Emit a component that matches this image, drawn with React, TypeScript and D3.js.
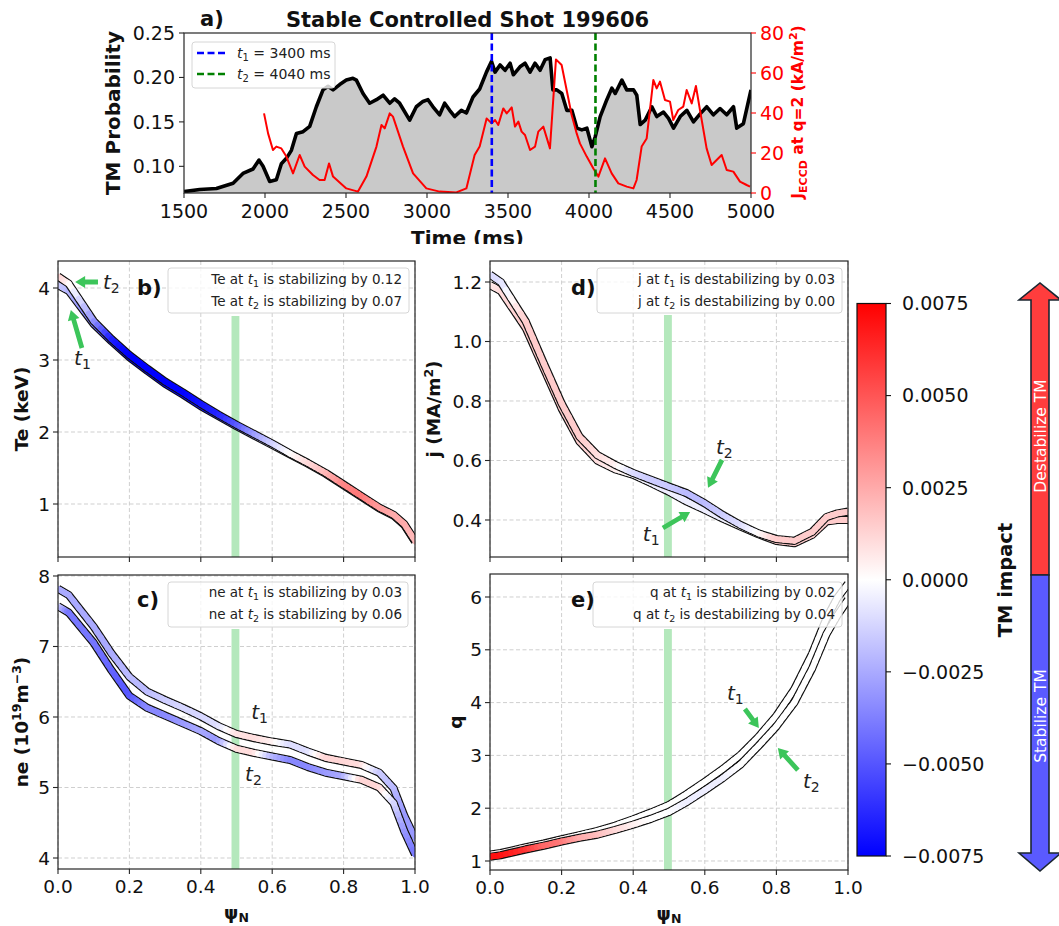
import React from "react";
import * as d3 from "d3";

const FONT = "'DejaVu Sans', sans-serif";

// ---------- panel a data ----------
const TIME_TICKS = [1500, 2000, 2500, 3000, 3500, 4000, 4500, 5000];
const PROB_TICKS = [0.1, 0.15, 0.2, 0.25];
const JECCD_TICKS = [0, 20, 40, 60, 80];
const T1_MS = 3400;
const T2_MS = 4040;

const PROB_T = [1500,1597,1700,1803,1864,1926,1963,1988,2029,2070,2101,2132,2163,2194,2235,2276,2317,2358,2389,2420,2461,2502,2543,2564,2605,2646,2688,2729,2770,2800,2831,2893,2934,2975,3006,3037,3078,3109,3140,3171,3212,3243,3284,3325,3367,3398,3420,3451,3482,3513,3533,3574,3605,3636,3667,3698,3729,3760,3777,3801,3832,3863,3894,3925,3956,3987,4018,4038,4069,4110,4141,4162,4203,4233,4275,4295,4316,4347,4388,4418,4460,4491,4522,4563,4604,4645,4686,4727,4768,4809,4850,4892,4912,4953,5000];
const PROB_V = [.0715,.074,.075,.081,.092,.097,.107,.100,.083,.085,.103,.109,.118,.137,.139,.145,.167,.186,.190,.186,.192,.197,.199,.197,.182,.171,.175,.180,.171,.176,.171,.152,.167,.173,.175,.167,.158,.171,.163,.156,.163,.160,.178,.187,.206,.218,.206,.214,.208,.216,.203,.212,.216,.206,.216,.208,.220,.222,.186,.186,.182,.163,.163,.143,.141,.143,.122,.133,.156,.175,.188,.182,.197,.186,.186,.180,.147,.152,.167,.156,.161,.154,.143,.156,.163,.150,.159,.167,.158,.165,.158,.167,.143,.148,.186];

const JECCD_T = [1994,2019,2049,2070,2101,2132,2173,2214,2245,2296,2337,2368,2395,2420,2502,2574,2626,2688,2719,2739,2770,2790,2852,2914,2996,3078,3181,3243,3294,3325,3368,3399,3420,3440,3471,3492,3523,3543,3564,3584,3605,3636,3667,3687,3718,3759,3796,3831,3862,3893,3924,3944,3986,4027,4058,4099,4140,4181,4233,4274,4294,4325,4356,4397,4418,4438,4469,4500,4520,4551,4582,4603,4634,4660,4685,4726,4757,4788,4819,4850,4891,4932,4973,4994];
const JECCD_V = [39.8,29.8,21.5,23.2,22.3,18.2,9.8,19,13.2,9,6.5,6.5,14.8,8.2,2.3,0.7,8.2,23.2,34,32.3,39.8,38.2,23.2,9.8,2.3,0.7,0.3,2.3,19,23.2,37.3,34.8,36.5,34,42.3,39.8,42.8,33.2,35.7,30.7,29,21.5,23.2,30.7,33.2,22.3,66.8,64,51.5,39,29.8,24.8,18.2,12.3,8.2,17.3,9.8,4.8,3.2,2.3,6.5,23.2,27.3,56.5,52.3,55.7,46.5,45.7,36.5,41.5,43.2,51.5,44.8,53.5,41.5,22.3,14,16.5,19,11.5,10.7,5.7,4,3.2];

// ---------- profile data ----------
const PSI = [0, 0.03, 0.1, 0.15, 0.2, 0.25, 0.3, 0.35, 0.4, 0.45, 0.5, 0.55, 0.6, 0.65, 0.7, 0.75, 0.8, 0.85, 0.9, 0.94, 0.97, 1.0];
const PSI_TICKS = [0, 0.2, 0.4, 0.6, 0.8, 1.0];
const Q2_SPAN = [0.486, 0.508];

const TE_T1 = [4.04, 3.96, 3.50, 3.26, 3.04, 2.85, 2.67, 2.52, 2.36, 2.22, 2.08, 1.95, 1.82, 1.69, 1.56, 1.42, 1.26, 1.10, 0.94, 0.84, 0.71, 0.48];
const TE_T2 = [4.16, 4.06, 3.54, 3.29, 3.07, 2.88, 2.70, 2.55, 2.39, 2.24, 2.10, 1.97, 1.84, 1.70, 1.57, 1.43, 1.27, 1.11, 0.95, 0.85, 0.72, 0.49];
// impact in units of 1e-3
const TE_T1_IMP = [-1.5, -2, -4, -6.5, -7.5, -7.5, -7.5, -7.5, -7, -6.5, -5, -3, -1.5, 0, 1, 2, 3.5, 4, 3, 2.5, 2.5, 2];
const TE_T2_IMP = [1.5, 0.5, -3, -6.5, -7.5, -7.5, -7.5, -7.5, -7, -6.5, -5, -3, -1.5, 0, 1, 2, 3.5, 4, 3, 2.5, 2.5, 2];

const NE_T1 = [7.82, 7.73, 7.28, 6.90, 6.57, 6.36, 6.24, 6.13, 6.01, 5.87, 5.76, 5.70, 5.65, 5.61, 5.51, 5.42, 5.37, 5.32, 5.21, 4.99, 4.60, 4.28];
const NE_T2 = [7.57, 7.48, 7.05, 6.66, 6.30, 6.13, 6.02, 5.91, 5.80, 5.66, 5.55, 5.49, 5.44, 5.39, 5.29, 5.21, 5.16, 5.11, 5.00, 4.78, 4.38, 4.05];
const NE_T1_IMP = [-2.5, -2.5, -2.5, -2.5, -2, -2, -1.5, -1.2, -1.2, -1, 0.8, 1, 0.5, -1, -1, 1.2, 1.2, 1, -1.5, -2, -3, -3];
const NE_T2_IMP = [-1, -4, -4, -4.5, -5, -3.5, -3.5, -3, -2.5, -3, 1, 1, -2, -3.5, -3.5, -3, -2.5, 1.2, 1.2, -1, -3, -4];

const J_T1 = [1.19, 1.17, 1.045, 0.91, 0.775, 0.664, 0.60, 0.57, 0.552, 0.524, 0.495, 0.462, 0.434, 0.405, 0.378, 0.352, 0.330, 0.322, 0.35, 0.395, 0.40, 0.40];
const J_T2 = [1.225, 1.20, 1.067, 0.927, 0.792, 0.68, 0.618, 0.585, 0.558, 0.535, 0.512, 0.49, 0.456, 0.417, 0.383, 0.355, 0.336, 0.330, 0.36, 0.41, 0.422, 0.428];
const J_T1_IMP = [0.5, 1, 1.5, 1.5, 1.5, 1.5, 1, 0.5, 0, -0.5, -0.5, -0.5, -0.5, -0.5, 0, 0.5, 1.5, 1.5, 1.5, 1.5, 1.5, 1.5];
const J_T2_IMP = [-1, -1, 1.5, 1.5, 1.5, 1.5, 1, 0.5, -1, -1.5, -1.5, -2, -2, -1.5, -1, 0, 1.5, 1.5, 1.5, 1.5, 1.5, 1.5];

const Q_T1 = [1.12, 1.15, 1.26, 1.33, 1.41, 1.49, 1.57, 1.67, 1.79, 1.92, 2.06, 2.27, 2.50, 2.74, 3.01, 3.35, 3.75, 4.25, 4.93, 5.60, 5.98, 6.25];
const Q_T2 = [1.08, 1.11, 1.22, 1.29, 1.37, 1.44, 1.50, 1.59, 1.69, 1.80, 1.93, 2.12, 2.34, 2.57, 2.83, 3.18, 3.55, 4.00, 4.65, 5.30, 5.65, 5.95];
const Q_T1_IMP = [0.5, 0.5, 0.5, 0.3, 0.2, 0, 0, 0, 0, 0, 0, 0, 0, 0, 0, 0, 0, 0, 0, 0, 0, 0];
const Q_T2_IMP = [7, 7, 6, 4.5, 4, 2.5, 2, 1.2, 0.5, 0, 0, -0.5, -0.5, -0.5, 0, 0, 0, 0, 0, 0, 0, 0];

const CBAR_TICKS = [-0.0075, -0.005, -0.0025, 0, 0.0025, 0.005, 0.0075];

const cmap = d3.scaleLinear<string>().domain([-7.5, 0, 7.5]).range(["#0000ff", "#ffffff", "#ff0000"]).clamp(true);

function Band({ vals, imps, xs, ys }: { vals: number[]; imps: number[]; xs: any; ys: any }) {
  const pts: [number, number][] = PSI.map((p, i) => [xs(p), ys(vals[i])]);
  const segs: any[] = [];
  const N = 5;
  for (let i = 0; i < pts.length - 1; i++) {
    for (let k = 0; k < N; k++) {
      const a = k / N, b = (k + 1) / N;
      const x0 = pts[i][0] + (pts[i + 1][0] - pts[i][0]) * a;
      const y0 = pts[i][1] + (pts[i + 1][1] - pts[i][1]) * a;
      const x1 = pts[i][0] + (pts[i + 1][0] - pts[i][0]) * b;
      const y1 = pts[i][1] + (pts[i + 1][1] - pts[i][1]) * b;
      const v = imps[i] + (imps[i + 1] - imps[i]) * ((a + b) / 2);
      segs.push(<line key={i + "_" + k} x1={x0} y1={y0} x2={x1} y2={y1} stroke={cmap(v)} strokeWidth={5.8} strokeLinecap="round" />);
    }
  }
  return (
    <g>
      <path d={d3.line()(pts) || ""} fill="none" stroke="#111" strokeWidth={8.2} strokeLinejoin="round" />
      {segs}
    </g>
  );
}

function GreenArrow({ x1, y1, x2, y2 }: { x1: number; y1: number; x2: number; y2: number }) {
  const dx = x2 - x1, dy = y2 - y1;
  const L = Math.hypot(dx, dy);
  const ux = dx / L, uy = dy / L, nx = -uy, ny = ux;
  const sw = 2.4, hw = 6, hl = 10;
  const bx = x2 - ux * hl, by = y2 - uy * hl;
  const p = [
    [x1 + nx * sw, y1 + ny * sw],
    [bx + nx * sw, by + ny * sw],
    [bx + nx * hw, by + ny * hw],
    [x2, y2],
    [bx - nx * hw, by - ny * hw],
    [bx - nx * sw, by - ny * sw],
    [x1 - nx * sw, y1 - ny * sw],
  ];
  return <polygon points={p.map((q) => q.join(",")).join(" ")} fill="#3cc55a" />;
}

function TLabel({ x, y, n }: { x: number; y: number; n: string }) {
  return (
    <text x={x} y={y} fontFamily={FONT} fontSize={20} fill="#222">
      <tspan fontStyle="italic">t</tspan>
      <tspan fontSize={14} dy={4}>{n}</tspan>
    </text>
  );
}

function LegendLine({ x, y, who, n, rest }: { x: number; y: number; who: string; n: string; rest: string }) {
  return (
    <text x={x} y={y} textAnchor="end" fontFamily={FONT} fontSize={13.5} fill="#222">
      <tspan>{who + " at "}</tspan>
      <tspan fontStyle="italic">t</tspan>
      <tspan fontSize={9.5} dy={3}>{n}</tspan>
      <tspan dy={-3}>{" " + rest}</tspan>
    </text>
  );
}

type Ann = { kind: "arrow"; a: [number, number]; b: [number, number] } | { kind: "text"; at: [number, number]; n: string };

function Profile({
  id, box, yDomain, yTicks, yFmt, s1, s2, i1, i2, legendBox, legendText, who, tag, tagX, tagY, ylabel, ylabelX, xLabels, anns, greenTop,
}: any) {
  const xs = d3.scaleLinear().domain([0, 1]).range([box.l, box.r]);
  const ys = d3.scaleLinear().domain(yDomain).range([box.b, box.t]);
  const cy = (box.t + box.b) / 2;
  const cx = (box.l + box.r) / 2;
  return (
    <g>
      <defs>
        <clipPath id={id}>
          <rect x={box.l} y={box.t} width={box.r - box.l} height={box.b - box.t} />
        </clipPath>
      </defs>
      <rect x={box.l} y={box.t} width={box.r - box.l} height={box.b - box.t} fill="#fff" />
      {PSI_TICKS.map((t) => (
        <line key={"gx" + t} x1={xs(t)} x2={xs(t)} y1={box.t} y2={box.b} stroke="#cfcfcf" strokeWidth={1} strokeDasharray="4,2.5" />
      ))}
      {yTicks.map((t: number) => (
        <line key={"gy" + t} x1={box.l} x2={box.r} y1={ys(t)} y2={ys(t)} stroke="#cfcfcf" strokeWidth={1} strokeDasharray="4,2.5" />
      ))}
      <rect x={xs(Q2_SPAN[0])} width={xs(Q2_SPAN[1]) - xs(Q2_SPAN[0])} y={greenTop} height={box.b - greenTop} fill="#b4e8bc" />
      <g clipPath={`url(#${id})`}>
        <Band vals={s1} imps={i1} xs={xs} ys={ys} />
        <Band vals={s2} imps={i2} xs={xs} ys={ys} />
      </g>
      <rect x={legendBox[0]} y={legendBox[1]} width={legendBox[2] - legendBox[0]} height={legendBox[3] - legendBox[1]} rx={3} fill="#fff" fillOpacity={0.8} stroke="#d6d6d6" />
      <LegendLine x={legendText[0]} y={legendText[1]} who={who} n="1" rest={legendText[3]} />
      <LegendLine x={legendText[0]} y={legendText[2]} who={who} n="2" rest={legendText[4]} />
      <text x={tagX} y={tagY} fontFamily={FONT} fontSize={21} fontWeight="bold" fill="#111">{tag}</text>
      {anns.map((a: Ann, i: number) =>
        a.kind === "arrow" ? (
          <GreenArrow key={i} x1={xs(a.a[0])} y1={ys(a.a[1])} x2={xs(a.b[0])} y2={ys(a.b[1])} />
        ) : (
          <TLabel key={i} x={xs(a.at[0])} y={ys(a.at[1])} n={a.n} />
        )
      )}
      <rect x={box.l} y={box.t} width={box.r - box.l} height={box.b - box.t} fill="none" stroke="#262626" strokeWidth={1.2} />
      {yTicks.map((t: number) => (
        <g key={"ty" + t}>
          <line x1={box.l - 5} x2={box.l} y1={ys(t)} y2={ys(t)} stroke="#262626" strokeWidth={1.1} />
          <text x={box.l - 8} y={ys(t)} dy="0.36em" textAnchor="end" fontFamily={FONT} fontSize={18.5} fill="#111">{yFmt(t)}</text>
        </g>
      ))}
      {PSI_TICKS.map((t) => (
        <g key={"tx" + t}>
          <line x1={xs(t)} x2={xs(t)} y1={box.b} y2={box.b + 5} stroke="#262626" strokeWidth={1.1} />
          {xLabels && (
            <text x={xs(t)} y={box.b + 24} textAnchor="middle" fontFamily={FONT} fontSize={18.5} fill="#111">{d3.format(".1f")(t)}</text>
          )}
        </g>
      ))}
      {xLabels && (
        <text x={cx} y={box.b + 50} textAnchor="middle" fontFamily={FONT} fontSize={18} fontWeight="bold" fill="#111">
          ψ<tspan fontSize={12.5} dy={3}>N</tspan>
        </text>
      )}
      <g transform={`translate(${ylabelX},${cy}) rotate(-90)`}>{ylabel}</g>
    </g>
  );
}

function PanelA() {
  const box = { l: 184, r: 751, t: 33, b: 193 };
  const x = d3.scaleLinear().domain([1500, 5000]).range([box.l, box.r]);
  const y = d3.scaleLinear().domain([0.07, 0.25]).range([box.b, box.t]);
  const yr = d3.scaleLinear().domain([0, 80]).range([box.b, box.t]);
  const probPts: [number, number][] = PROB_T.map((t, i) => [x(t), y(PROB_V[i])]);
  const area = d3.area<[number, number]>().x((d) => d[0]).y0(box.b).y1((d) => d[1])(probPts) || "";
  const line = d3.line()(probPts) || "";
  const jline = d3.line()(JECCD_T.map((t, i) => [x(t), yr(JECCD_V[i])] as [number, number])) || "";
  return (
    <g>
      <defs>
        <clipPath id="clipA">
          <rect x={box.l} y={box.t} width={box.r - box.l} height={box.b - box.t} />
        </clipPath>
        <clipPath id="clipTime">
          <rect x={0} y={0} width={1059} height={244} />
        </clipPath>
      </defs>
      <g clipPath="url(#clipA)">
        <path d={area} fill="#c9c9c9" />
        <path d={line} fill="none" stroke="#000" strokeWidth={3.6} strokeLinejoin="round" />
        <path d={jline} fill="none" stroke="#ff0000" strokeWidth={2} strokeLinejoin="round" />
        <line x1={x(T1_MS)} x2={x(T1_MS)} y1={box.t} y2={box.b} stroke="#0000ff" strokeWidth={2.6} strokeDasharray="7,3.5" />
        <line x1={x(T2_MS)} x2={x(T2_MS)} y1={box.t} y2={box.b} stroke="#008000" strokeWidth={2.6} strokeDasharray="7,3.5" />
      </g>
      <rect x={box.l} y={box.t} width={box.r - box.l} height={box.b - box.t} fill="none" stroke="#262626" strokeWidth={1.2} />
      {/* legend */}
      <rect x={192} y={42} width={143} height={46} rx={3} fill="#fff" fillOpacity={0.8} stroke="#d6d6d6" />
      <line x1={197} x2={227} y1={53} y2={53} stroke="#0000ff" strokeWidth={2.6} strokeDasharray="7,3.5" />
      <line x1={197} x2={227} y1={74} y2={74} stroke="#008000" strokeWidth={2.6} strokeDasharray="7,3.5" />
      <text x={237} y={58} fontFamily={FONT} fontSize={14} fill="#222">
        <tspan fontStyle="italic">t</tspan><tspan fontSize={10} dy={3}>1</tspan><tspan dy={-3}>{" = " + T1_MS + " ms"}</tspan>
      </text>
      <text x={237} y={79} fontFamily={FONT} fontSize={14} fill="#222">
        <tspan fontStyle="italic">t</tspan><tspan fontSize={10} dy={3}>2</tspan><tspan dy={-3}>{" = " + T2_MS + " ms"}</tspan>
      </text>
      {TIME_TICKS.map((t) => (
        <g key={t}>
          <line x1={x(t)} x2={x(t)} y1={box.b} y2={box.b + 5} stroke="#262626" strokeWidth={1.1} />
          <text x={x(t)} y={218} textAnchor="middle" fontFamily={FONT} fontSize={19} fill="#111">{t}</text>
        </g>
      ))}
      {PROB_TICKS.map((t) => (
        <g key={t}>
          <line x1={box.l - 5} x2={box.l} y1={y(t)} y2={y(t)} stroke="#262626" strokeWidth={1.1} />
          <text x={box.l - 9} y={y(t)} dy="0.36em" textAnchor="end" fontFamily={FONT} fontSize={19} fill="#111">{d3.format(".2f")(t)}</text>
        </g>
      ))}
      {JECCD_TICKS.map((t) => (
        <g key={t}>
          <line x1={box.r} x2={box.r + 5} y1={yr(t)} y2={yr(t)} stroke="#ff0000" strokeWidth={1.1} />
          <text x={box.r + 9} y={yr(t)} dy="0.36em" textAnchor="start" fontFamily={FONT} fontSize={19} fill="#ff0000">{t}</text>
        </g>
      ))}
      <text x={200} y={26} fontFamily={FONT} fontSize={21} fontWeight="bold" fill="#111">a)</text>
      <text x={(box.l + box.r) / 2} y={26.5} textAnchor="middle" fontFamily={FONT} fontSize={21} fontWeight="bold" fill="#111">Stable Controlled Shot 199606</text>
      <text transform={`translate(120,113) rotate(-90)`} textAnchor="middle" fontFamily={FONT} fontSize={20} fontWeight="bold" fill="#111">TM Probability</text>
      <text transform={`translate(803,112) rotate(-90)`} textAnchor="middle" fontFamily={FONT} fontSize={15.5} fontWeight="bold" fill="#ff0000">
        J<tspan fontSize={11} dy={4}>ECCD</tspan><tspan dy={-4}>{" at q=2 (kA/m"}</tspan><tspan fontSize={11} dy={-6}>2</tspan><tspan dy={6}>)</tspan>
      </text>
      <text x={(box.l + box.r) / 2} y={245} clipPath="url(#clipTime)" textAnchor="middle" fontFamily={FONT} fontSize={20} fontWeight="bold" fill="#111">Time (ms)</text>
    </g>
  );
}

function Colorbar() {
  const x0 = 857, x1 = 886;
  const y = d3.scaleLinear().domain([-0.0075, 0.0075]).range([856, 303.5]);
  const fmt = d3.format(".4f");
  return (
    <g>
      <defs>
        <linearGradient id="bwr" x1="0" y1="1" x2="0" y2="0">
          <stop offset="0%" stopColor={cmap(-7.5)} />
          <stop offset="50%" stopColor={cmap(0)} />
          <stop offset="100%" stopColor={cmap(7.5)} />
        </linearGradient>
      </defs>
      <rect x={x0} y={y(0.0075)} width={x1 - x0} height={y(-0.0075) - y(0.0075)} fill="url(#bwr)" stroke="#111" strokeWidth={1.2} />
      {CBAR_TICKS.map((t) => (
        <g key={t}>
          <line x1={x1} x2={x1 + 5} y1={y(t)} y2={y(t)} stroke="#111" strokeWidth={1.1} />
          <text x={x1 + 16} y={y(t)} dy="0.36em" fontFamily={FONT} fontSize={19} fill="#111">{fmt(t)}</text>
        </g>
      ))}
      <text transform={`translate(1012,580) rotate(-90)`} textAnchor="middle" fontFamily={FONT} fontSize={19.5} fontWeight="bold" fill="#111">TM impact</text>
      <polygon points="1031,575 1031,300 1019,300 1040,283 1061,300 1049,300 1049,575" fill="#ff3d3d" stroke="#1b2631" strokeWidth={1.6} />
      <polygon points="1031,575 1031,853 1019,853 1040,871 1061,853 1049,853 1049,575" fill="#5a5aff" stroke="#1b2631" strokeWidth={1.6} />
      <text transform={`translate(1046,436) rotate(-90)`} textAnchor="middle" fontFamily={FONT} fontSize={15.5} fill="#fff">Destabilize TM</text>
      <text transform={`translate(1046,716) rotate(-90)`} textAnchor="middle" fontFamily={FONT} fontSize={15.5} fill="#fff">Stabilize TM</text>
    </g>
  );
}

const boldLabel = (children: any) => (
  <text textAnchor="middle" fontFamily={FONT} fontSize={18.5} fontWeight="bold" fill="#111">{children}</text>
);

export default function App() {
  const fmt1 = (t: number) => d3.format(".1f")(t);
  const fmt0 = (t: number) => String(t);
  return (
    <svg width={1059} height={926} style={{ position: "absolute", left: 0, top: 0, background: "#fff" }}>
      <rect width={1059} height={926} fill="#fff" />
      <PanelA />
      <Profile
        id="clipB"
        box={{ l: 58, r: 415, t: 261, b: 557 }}
        yDomain={[0.264, 4.375]}
        yTicks={[1, 2, 3, 4]}
        yFmt={fmt0}
        s1={TE_T1} s2={TE_T2} i1={TE_T1_IMP} i2={TE_T2_IMP}
        legendBox={[168, 268, 409, 313]}
        legendText={[402, 284, 305.5, "is stabilizing by 0.12", "is stabilizing by 0.07"]}
        who="Te"
        tag="b)" tagX={137} tagY={295}
        ylabel={boldLabel("Te (keV)")}
        ylabelX={28}
        xLabels={false}
        greenTop={316}
        anns={[
          { kind: "arrow", a: [0.112, 4.083], b: [0.048, 4.083] },
          { kind: "text", at: [0.126, 3.986], n: "2" },
          { kind: "arrow", a: [0.067, 3.167], b: [0.036, 3.694] },
          { kind: "text", at: [0.045, 2.93], n: "1" },
        ]}
      />
      <Profile
        id="clipC"
        box={{ l: 58, r: 415, t: 575, b: 869 }}
        yDomain={[3.844, 8.014]}
        yTicks={[4, 5, 6, 7, 8]}
        yFmt={fmt0}
        s1={NE_T1} s2={NE_T2} i1={NE_T1_IMP} i2={NE_T2_IMP}
        legendBox={[168, 582, 408, 627]}
        legendText={[402, 597, 618.5, "is stabilizing by 0.03", "is stabilizing by 0.06"]}
        who="ne"
        tag="c)" tagX={137} tagY={607}
        ylabel={
          <text textAnchor="middle" fontFamily={FONT} fontSize={18.5} fontWeight="bold" fill="#111">
            {"ne (10"}<tspan fontSize={12.5} dy={-7}>19</tspan><tspan dy={7}>m</tspan><tspan fontSize={12.5} dy={-7}>−3</tspan><tspan dy={7}>)</tspan>
          </text>
        }
        ylabelX={28}
        xLabels={true}
        greenTop={629}
        anns={[
          { kind: "text", at: [0.541, 5.975], n: "1" },
          { kind: "text", at: [0.524, 5.096], n: "2" },
        ]}
      />
      <Profile
        id="clipD"
        box={{ l: 490, r: 848, t: 261, b: 557 }}
        yDomain={[0.2756, 1.2706]}
        yTicks={[0.4, 0.6, 0.8, 1.0, 1.2]}
        yFmt={fmt1}
        s1={J_T1} s2={J_T2} i1={J_T1_IMP} i2={J_T2_IMP}
        legendBox={[597, 268, 842, 313]}
        legendText={[835, 284, 305.5, "is destabilizing by 0.03", "is destabilizing by 0.00"]}
        who="j"
        tag="d)" tagX={571} tagY={295}
        ylabel={
          <text textAnchor="middle" fontFamily={FONT} fontSize={18.5} fontWeight="bold" fill="#111">
            {"j (MA/m"}<tspan fontSize={12.5} dy={-7}>2</tspan><tspan dy={7}>)</tspan>
          </text>
        }
        ylabelX={440}
        xLabels={false}
        greenTop={315}
        anns={[
          { kind: "arrow", a: [0.648, 0.602], b: [0.609, 0.508] },
          { kind: "text", at: [0.631, 0.622], n: "2" },
          { kind: "arrow", a: [0.483, 0.373], b: [0.559, 0.427] },
          { kind: "text", at: [0.427, 0.329], n: "1" },
        ]}
      />
      <Profile
        id="clipE"
        box={{ l: 490, r: 848, t: 574, b: 870 }}
        yDomain={[0.8295, 6.4356]}
        yTicks={[1, 2, 3, 4, 5, 6]}
        yFmt={fmt0}
        s1={Q_T1} s2={Q_T2} i1={Q_T1_IMP} i2={Q_T2_IMP}
        legendBox={[593, 582, 842, 627]}
        legendText={[835, 597, 618.5, "is stabilizing by 0.02", "is destabilizing by 0.04"]}
        who="q"
        tag="e)" tagX={571} tagY={607}
        ylabel={boldLabel("q")}
        ylabelX={462}
        xLabels={true}
        greenTop={629}
        anns={[
          { kind: "text", at: [0.662, 4.049], n: "1" },
          { kind: "arrow", a: [0.712, 3.879], b: [0.751, 3.519] },
          { kind: "text", at: [0.874, 2.383], n: "2" },
          { kind: "arrow", a: [0.86, 2.723], b: [0.804, 3.14] },
        ]}
      />
      <Colorbar />
    </svg>
  );
}
